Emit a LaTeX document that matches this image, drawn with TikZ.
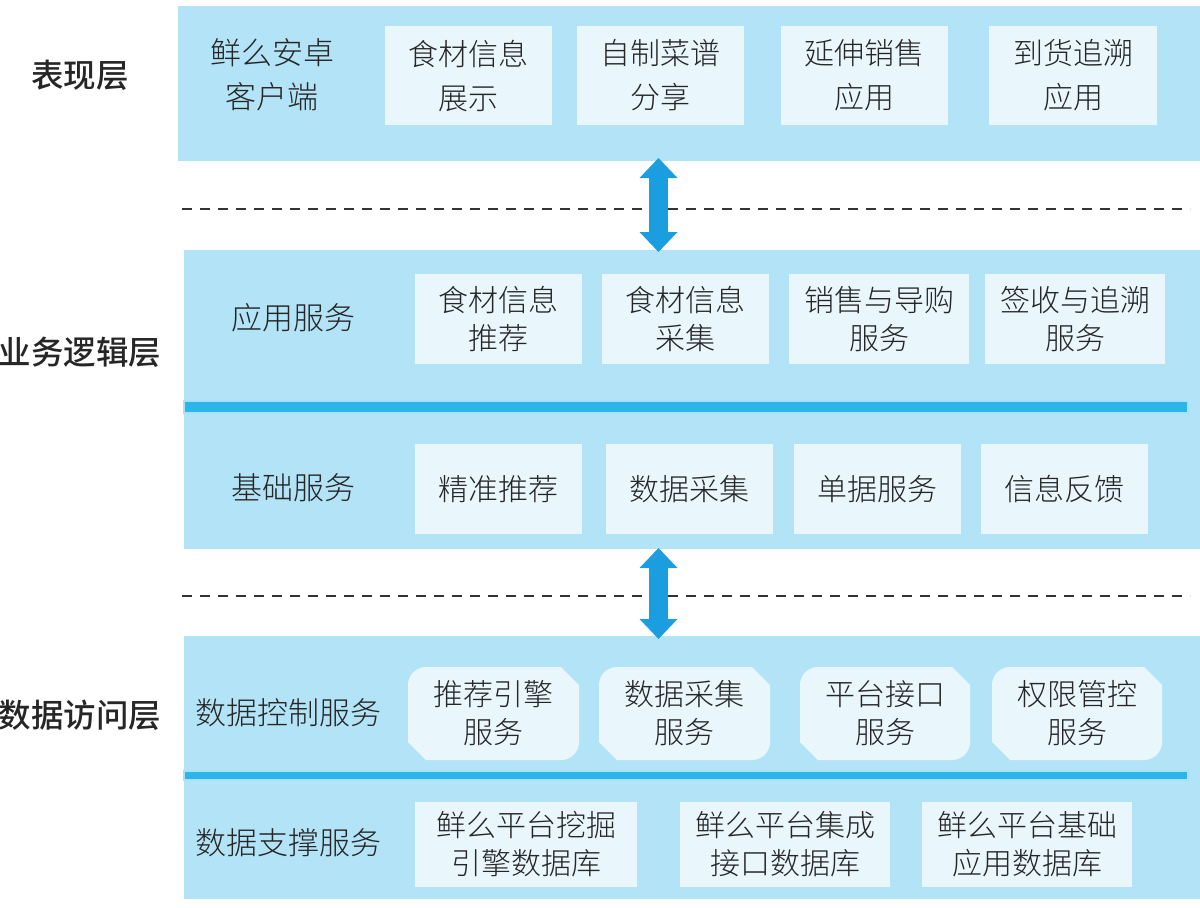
\documentclass[tikz,border=0pt]{standalone}
\usepackage{fontspec}
\setmainfont{Noto Sans CJK SC}
\newfontfamily\lightcjk{Noto Sans CJK SC Light}
\newfontfamily\medcjk{Noto Sans CJK SC Medium}
\usetikzlibrary{arrows.meta}
\definecolor{panelc}{HTML}{B3E3F6}
\definecolor{boxc}{HTML}{E9F6FC}
\definecolor{barc}{HTML}{2BB5E9}
\definecolor{arrc}{HTML}{1A9EE0}
\definecolor{txtc}{HTML}{262626}
\newcommand\rbox[7]{\node[#2, minimum width={(#5-#3)*1pt}, minimum height={(#6-#4)*1pt}] (#1) at ({(#3+#5)/2},{(#4+#6)/2}) {#7};}
\newcommand\cbox[6]{%
  \fill[boxc] (#2,{#3+18}) .. controls (#2,{#3+8}) and ({#2+8},#3) .. ({#2+18},#3) -- ({#4-18},#3) -- (#4,{#3+18}) -- (#4,{#5-18}) .. controls (#4,{#5-8}) and ({#4-8},#5) .. ({#4-18},#5) -- ({#2+18},#5) -- (#2,{#5-18}) -- cycle;
  \node[btxt] (#1) at ({(#2+#4)/2},{(#3+#5)/2}) {#6};}
\tikzset{
  panel/.style={fill=panelc, inner sep=0pt, outer sep=0pt},
  box/.style={fill=boxc, inner sep=0pt, outer sep=0pt, align=center, text=txtc, font=\lightcjk\fontsize{30}{38}\selectfont},
  topbox/.style={box, font=\lightcjk\fontsize{30}{44}\selectfont},
  btxt/.style={inner sep=0pt, align=center, text=txtc, font=\lightcjk\fontsize{30}{38}\selectfont},
  lbl/.style={inner sep=0pt, align=center, text=txtc, font=\lightcjk\fontsize{31}{44}\selectfont},
  layer/.style={inner sep=0pt, text=txtc, font=\medcjk\fontsize{32.5}{40}\selectfont},
  bar/.style={fill=barc, draw=white!60!barc, line width=1.5pt, inner sep=0pt, outer sep=0pt},
  bigarrow/.style={draw=arrc, line width=19pt, {Triangle[width=38pt,length=20pt,line width=0pt,fill=arrc]}-{Triangle[width=38pt,length=20pt,line width=0pt,fill=arrc]}},
  dashline/.style={draw=black!80, line width=2pt, dash pattern=on 10pt off 8pt}
}
\begin{document}
\begin{tikzpicture}[x=1pt,y=-1pt]
\useasboundingbox (0,0) rectangle (1200,908);
% panels
\rbox{P1}{panel}{178}{6}{1200}{161}{}
\rbox{P2}{panel}{184}{250}{1200}{549}{}
\rbox{P3}{panel}{184}{636}{1200}{899}{}
\rbox{B1}{bar}{184}{401}{1188}{413}{}
\rbox{B2}{bar}{184}{771}{1188}{780}{}
% layer labels
\node[layer] (L1) at (80,75) {表现层};
\node[layer] (L2) at (80,352) {业务逻辑层};
\node[layer] (L3) at (80,715) {数据访问层};
% presentation layer
\node[lbl] (client) at (272,75) {鲜么安卓\\客户端};
\rbox{t1}{topbox}{385}{26}{552}{125}{食材信息\\展示}
\rbox{t2}{topbox}{577}{26}{744}{125}{自制菜谱\\分享}
\rbox{t3}{topbox}{781}{26}{948}{125}{延伸销售\\应用}
\rbox{t4}{topbox}{989}{26}{1157}{125}{到货追溯\\应用}
% application services
\node[lbl] (app) at (293,318) {应用服务};
\rbox{a1}{box}{415}{274}{582}{364}{食材信息\\推荐}
\rbox{a2}{box}{602}{274}{769}{364}{食材信息\\采集}
\rbox{a3}{box}{789}{274}{969}{364}{销售与导购\\服务}
\rbox{a4}{box}{985}{274}{1165}{364}{签收与追溯\\服务}
% basic services
\node[lbl] (base) at (293,488) {基础服务};
\rbox{b1}{box}{415}{444}{582}{534}{精准推荐}
\rbox{b2}{box}{606}{444}{773}{534}{数据采集}
\rbox{b3}{box}{794}{444}{961}{534}{单据服务}
\rbox{b4}{box}{981}{444}{1148}{534}{信息反馈}
% data control
\node[lbl] (ctrl) at (288,713) {数据控制服务};
\cbox{c1}{408}{667}{579}{760}{推荐引擎\\服务}
\cbox{c2}{599}{667}{770}{760}{数据采集\\服务}
\cbox{c3}{800}{667}{970}{760}{平台接口\\服务}
\cbox{c4}{992}{667}{1162}{760}{权限管控\\服务}
% data support
\node[lbl] (sup) at (288,843) {数据支撑服务};
\rbox{s1}{box}{415}{802}{637}{887}{鲜么平台挖掘\\引擎数据库}
\rbox{s2}{box}{680}{802}{890}{887}{鲜么平台集成\\接口数据库}
\rbox{s3}{box}{922}{802}{1132}{887}{鲜么平台基础\\应用数据库}
% dashed lines
\coordinate (d1l) at (182,209); \coordinate (d1r) at (1190,209);
\coordinate (d2l) at (182,596); \coordinate (d2r) at (1190,596);
\draw[dashline] (d1l) -- (d1r);
\draw[dashline] (d2l) -- (d2r);
% arrows
\coordinate (ax) at (658.5,0);
\draw[bigarrow, shorten <=-3pt, shorten >=-2pt] (P1.south -| ax) -- (P2.north -| ax);
\draw[bigarrow, shorten <=-1pt, shorten >=-3pt] (P2.south -| ax) -- (P3.north -| ax);
\end{tikzpicture}
\end{document}
